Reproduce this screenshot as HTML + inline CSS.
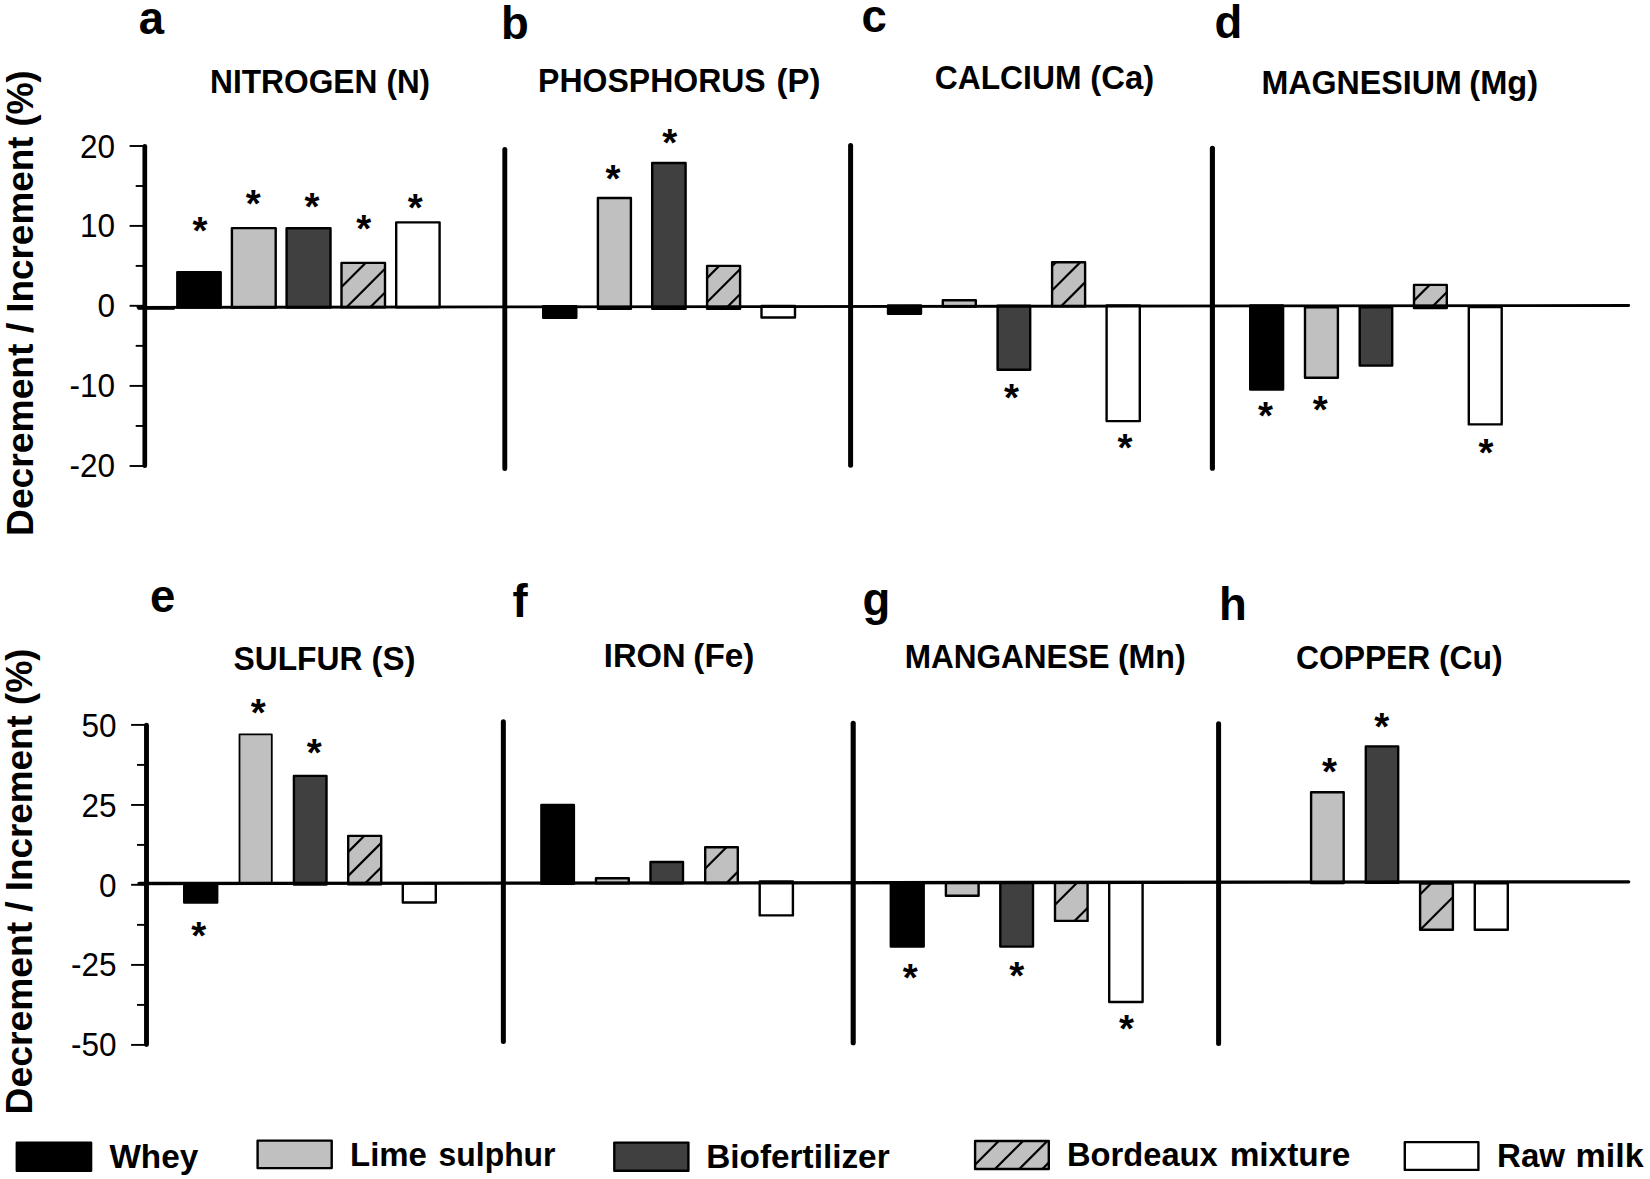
<!DOCTYPE html>
<html lang="en">
<head>
<meta charset="utf-8">
<title>Decrement / Increment (%) of leaf nutrients</title>
<style>
html,body{margin:0;padding:0;background:#fff;}
body{width:1650px;height:1179px;overflow:hidden;}
svg{display:block;}
svg text{font-family:"Liberation Sans",sans-serif;fill:#000;}
</style>
</head>
<body>
<svg width="1650" height="1179" viewBox="0 0 1650 1179">
<rect x="0" y="0" width="1650" height="1179" fill="#fff"/>
<text transform="translate(33.00,0) rotate(-90)" y="0" font-size="37.8" font-weight="bold"><tspan x="-536.02" textLength="192.55" lengthAdjust="spacingAndGlyphs">Decrement</tspan> <tspan x="-333.18" textLength="10.58" lengthAdjust="spacingAndGlyphs">/</tspan> <tspan x="-312.80" textLength="176.33" lengthAdjust="spacingAndGlyphs">Increment</tspan> <tspan x="-126.61" textLength="56.22" lengthAdjust="spacingAndGlyphs">(%)</tspan></text>
<text transform="translate(32.00,0) rotate(-90)" y="0" font-size="37.8" font-weight="bold"><tspan x="-1114.52" textLength="192.75" lengthAdjust="spacingAndGlyphs">Decrement</tspan> <tspan x="-911.78" textLength="10.47" lengthAdjust="spacingAndGlyphs">/</tspan> <tspan x="-891.30" textLength="176.13" lengthAdjust="spacingAndGlyphs">Increment</tspan> <tspan x="-704.91" textLength="56.22" lengthAdjust="spacingAndGlyphs">(%)</tspan></text>
<text x="138.83" y="33.60" font-size="45.5" font-weight="bold">a</text>
<text x="501.04" y="38.90" font-size="45.5" font-weight="bold">b</text>
<text x="861.38" y="31.50" font-size="45.5" font-weight="bold">c</text>
<text x="1214.58" y="38.40" font-size="45.5" font-weight="bold">d</text>
<text x="149.98" y="612.30" font-size="45.5" font-weight="bold">e</text>
<text x="512.42" y="616.60" font-size="45.5" font-weight="bold">f</text>
<text x="862.48" y="615.00" font-size="45.5" font-weight="bold">g</text>
<text x="1219.02" y="619.80" font-size="45.5" font-weight="bold">h</text>
<text y="92.90" font-size="33.2" font-weight="bold"><tspan x="210.04" textLength="167.31" lengthAdjust="spacingAndGlyphs">NITROGEN</tspan> <tspan x="386.43" textLength="43.59" lengthAdjust="spacingAndGlyphs">(N)</tspan></text>
<text y="91.60" font-size="33.2" font-weight="bold"><tspan x="538.12" textLength="227.58" lengthAdjust="spacingAndGlyphs">PHOSPHORUS</tspan> <tspan x="776.56" textLength="43.83" lengthAdjust="spacingAndGlyphs">(P)</tspan></text>
<text y="89.10" font-size="33.2" font-weight="bold"><tspan x="934.73" textLength="146.72" lengthAdjust="spacingAndGlyphs">CALCIUM</tspan> <tspan x="1090.36" textLength="63.76" lengthAdjust="spacingAndGlyphs">(Ca)</tspan></text>
<text y="93.70" font-size="33.2" font-weight="bold"><tspan x="1261.51" textLength="200.26" lengthAdjust="spacingAndGlyphs">MAGNESIUM</tspan> <tspan x="1469.37" textLength="68.76" lengthAdjust="spacingAndGlyphs">(Mg)</tspan></text>
<text y="670.40" font-size="33.2" font-weight="bold"><tspan x="233.55" textLength="128.90" lengthAdjust="spacingAndGlyphs">SULFUR</tspan> <tspan x="371.55" textLength="44.04" lengthAdjust="spacingAndGlyphs">(S)</tspan></text>
<text y="666.50" font-size="33.2" font-weight="bold"><tspan x="603.87" textLength="81.86" lengthAdjust="spacingAndGlyphs">IRON</tspan> <tspan x="693.33" textLength="61.07" lengthAdjust="spacingAndGlyphs">(Fe)</tspan></text>
<text y="667.80" font-size="33.2" font-weight="bold"><tspan x="904.65" textLength="204.98" lengthAdjust="spacingAndGlyphs">MANGANESE</tspan> <tspan x="1117.89" textLength="67.81" lengthAdjust="spacingAndGlyphs">(Mn)</tspan></text>
<text y="669.10" font-size="33.2" font-weight="bold"><tspan x="1295.93" textLength="134.41" lengthAdjust="spacingAndGlyphs">COPPER</tspan> <tspan x="1438.91" textLength="63.76" lengthAdjust="spacingAndGlyphs">(Cu)</tspan></text>
<text x="79.98" y="157.60" font-size="33" font-weight="normal" textLength="35.06" lengthAdjust="spacingAndGlyphs">20</text>
<text x="79.98" y="237.40" font-size="33" font-weight="normal" textLength="35.06" lengthAdjust="spacingAndGlyphs">10</text>
<text x="97.47" y="317.30" font-size="33" font-weight="normal" textLength="17.53" lengthAdjust="spacingAndGlyphs">0</text>
<text x="69.42" y="397.10" font-size="33" font-weight="normal" textLength="45.55" lengthAdjust="spacingAndGlyphs">-10</text>
<text x="69.42" y="477.00" font-size="33" font-weight="normal" textLength="45.55" lengthAdjust="spacingAndGlyphs">-20</text>
<text x="81.58" y="737.40" font-size="33" font-weight="normal" textLength="35.06" lengthAdjust="spacingAndGlyphs">50</text>
<text x="81.58" y="816.90" font-size="33" font-weight="normal" textLength="35.06" lengthAdjust="spacingAndGlyphs">25</text>
<text x="99.07" y="896.60" font-size="33" font-weight="normal" textLength="17.53" lengthAdjust="spacingAndGlyphs">0</text>
<text x="71.02" y="976.40" font-size="33" font-weight="normal" textLength="45.55" lengthAdjust="spacingAndGlyphs">-25</text>
<text x="71.02" y="1056.20" font-size="33" font-weight="normal" textLength="45.55" lengthAdjust="spacingAndGlyphs">-50</text>
<line x1="129.60" y1="146.00" x2="143.50" y2="146.00" stroke="#000" stroke-width="1.9"/>
<line x1="129.60" y1="225.90" x2="143.50" y2="225.90" stroke="#000" stroke-width="1.9"/>
<line x1="129.60" y1="305.80" x2="143.50" y2="305.80" stroke="#000" stroke-width="1.9"/>
<line x1="129.60" y1="385.90" x2="143.50" y2="385.90" stroke="#000" stroke-width="1.9"/>
<line x1="129.60" y1="466.00" x2="143.50" y2="466.00" stroke="#000" stroke-width="1.9"/>
<line x1="135.70" y1="186.00" x2="143.50" y2="186.00" stroke="#000" stroke-width="1.9"/>
<line x1="135.70" y1="265.90" x2="143.50" y2="265.90" stroke="#000" stroke-width="1.9"/>
<line x1="135.70" y1="345.85" x2="143.50" y2="345.85" stroke="#000" stroke-width="1.9"/>
<line x1="135.70" y1="425.95" x2="143.50" y2="425.95" stroke="#000" stroke-width="1.9"/>
<line x1="144.80" y1="146.35" x2="144.80" y2="465.75" stroke="#000" stroke-width="4.7" stroke-linecap="round"/>
<line x1="131.10" y1="724.90" x2="145.50" y2="724.90" stroke="#000" stroke-width="1.9"/>
<line x1="131.10" y1="804.95" x2="145.50" y2="804.95" stroke="#000" stroke-width="1.9"/>
<line x1="131.10" y1="884.80" x2="145.50" y2="884.80" stroke="#000" stroke-width="1.9"/>
<line x1="131.10" y1="964.90" x2="145.50" y2="964.90" stroke="#000" stroke-width="1.9"/>
<line x1="131.10" y1="1044.90" x2="145.50" y2="1044.90" stroke="#000" stroke-width="1.9"/>
<line x1="137.00" y1="764.90" x2="145.50" y2="764.90" stroke="#000" stroke-width="1.9"/>
<line x1="137.00" y1="844.90" x2="145.50" y2="844.90" stroke="#000" stroke-width="1.9"/>
<line x1="137.00" y1="924.85" x2="145.50" y2="924.85" stroke="#000" stroke-width="1.9"/>
<line x1="137.00" y1="1004.90" x2="145.50" y2="1004.90" stroke="#000" stroke-width="1.9"/>
<line x1="146.50" y1="725.25" x2="146.50" y2="1044.45" stroke="#000" stroke-width="4.9" stroke-linecap="round"/>
<line x1="504.80" y1="149.35" x2="504.80" y2="468.65" stroke="#000" stroke-width="4.9" stroke-linecap="round"/>
<line x1="850.60" y1="145.40" x2="850.60" y2="465.20" stroke="#000" stroke-width="5.0" stroke-linecap="round"/>
<line x1="1212.40" y1="148.35" x2="1212.40" y2="468.25" stroke="#000" stroke-width="5.1" stroke-linecap="round"/>
<line x1="503.35" y1="721.80" x2="503.35" y2="1041.40" stroke="#000" stroke-width="5.0" stroke-linecap="round"/>
<line x1="853.20" y1="723.25" x2="853.20" y2="1042.75" stroke="#000" stroke-width="5.1" stroke-linecap="round"/>
<line x1="1218.60" y1="723.80" x2="1218.60" y2="1043.40" stroke="#000" stroke-width="5.0" stroke-linecap="round"/>
<rect x="177.30" y="272.20" width="43.40" height="35.40" fill="#000" stroke="#000" stroke-width="2.4" stroke-linejoin="round"/>
<rect x="231.90" y="228.10" width="43.80" height="79.50" fill="#c0c0c0" stroke="#000" stroke-width="2.4" stroke-linejoin="round"/>
<rect x="286.60" y="228.20" width="43.90" height="79.30" fill="#404040" stroke="#000" stroke-width="2.4" stroke-linejoin="round"/>
<clipPath id="c1"><rect x="341.50" y="262.90" width="43.50" height="44.50"/></clipPath>
<rect x="341.50" y="262.90" width="43.50" height="44.50" fill="#c0c0c0" stroke="none"/>
<g clip-path="url(#c1)" stroke="#000" stroke-width="2.2"><line x1="290.60" y1="313.40" x2="347.10" y2="256.90"/><line x1="315.10" y1="313.40" x2="371.60" y2="256.90"/><line x1="340.40" y1="313.40" x2="396.90" y2="256.90"/><line x1="364.10" y1="313.40" x2="420.60" y2="256.90"/></g>
<rect x="341.50" y="262.90" width="43.50" height="44.50" fill="none" stroke="#000" stroke-width="2.4" stroke-linejoin="round"/>
<rect x="396.20" y="222.40" width="43.40" height="84.90" fill="#fff" stroke="#000" stroke-width="2.4" stroke-linejoin="round"/>
<rect x="543.20" y="306.30" width="33.10" height="11.40" fill="#000" stroke="#000" stroke-width="2.4" stroke-linejoin="round"/>
<rect x="597.90" y="198.00" width="33.00" height="110.80" fill="#c0c0c0" stroke="#000" stroke-width="2.4" stroke-linejoin="round"/>
<rect x="652.20" y="163.00" width="33.40" height="145.70" fill="#404040" stroke="#000" stroke-width="2.4" stroke-linejoin="round"/>
<clipPath id="c2"><rect x="707.10" y="265.90" width="33.00" height="42.80"/></clipPath>
<rect x="707.10" y="265.90" width="33.00" height="42.80" fill="#c0c0c0" stroke="none"/>
<g clip-path="url(#c2)" stroke="#000" stroke-width="2.2"><line x1="670.40" y1="314.70" x2="725.20" y2="259.90"/><line x1="694.60" y1="314.70" x2="749.40" y2="259.90"/><line x1="719.60" y1="314.70" x2="774.40" y2="259.90"/></g>
<rect x="707.10" y="265.90" width="33.00" height="42.80" fill="none" stroke="#000" stroke-width="2.4" stroke-linejoin="round"/>
<rect x="761.50" y="306.00" width="33.50" height="11.50" fill="#fff" stroke="#000" stroke-width="2.4" stroke-linejoin="round"/>
<rect x="888.00" y="305.40" width="33.00" height="8.30" fill="#000" stroke="#000" stroke-width="2.4" stroke-linejoin="round"/>
<rect x="942.80" y="300.20" width="33.00" height="6.30" fill="#c0c0c0" stroke="#000" stroke-width="2.4" stroke-linejoin="round"/>
<rect x="997.60" y="305.60" width="32.60" height="64.20" fill="#404040" stroke="#000" stroke-width="2.4" stroke-linejoin="round"/>
<clipPath id="c3"><rect x="1052.10" y="262.30" width="33.00" height="44.10"/></clipPath>
<rect x="1052.10" y="262.30" width="33.00" height="44.10" fill="#c0c0c0" stroke="none"/>
<g clip-path="url(#c3)" stroke="#000" stroke-width="2.2"><line x1="1005.80" y1="312.40" x2="1061.90" y2="256.30"/><line x1="1030.10" y1="312.40" x2="1086.20" y2="256.30"/><line x1="1055.00" y1="312.40" x2="1111.10" y2="256.30"/><line x1="1079.60" y1="312.40" x2="1135.70" y2="256.30"/></g>
<rect x="1052.10" y="262.30" width="33.00" height="44.10" fill="none" stroke="#000" stroke-width="2.4" stroke-linejoin="round"/>
<rect x="1106.60" y="305.40" width="33.20" height="115.70" fill="#fff" stroke="#000" stroke-width="2.4" stroke-linejoin="round"/>
<rect x="1250.20" y="305.50" width="32.90" height="84.10" fill="#000" stroke="#000" stroke-width="2.4" stroke-linejoin="round"/>
<rect x="1305.00" y="307.30" width="32.90" height="70.50" fill="#c0c0c0" stroke="#000" stroke-width="2.4" stroke-linejoin="round"/>
<rect x="1359.70" y="307.20" width="32.50" height="58.40" fill="#404040" stroke="#000" stroke-width="2.4" stroke-linejoin="round"/>
<clipPath id="c4"><rect x="1414.00" y="284.90" width="32.80" height="23.20"/></clipPath>
<rect x="1414.00" y="284.90" width="32.80" height="23.20" fill="#c0c0c0" stroke="none"/>
<g clip-path="url(#c4)" stroke="#000" stroke-width="2.2"><line x1="1376.10" y1="314.10" x2="1411.30" y2="278.90"/><line x1="1400.50" y1="314.10" x2="1435.70" y2="278.90"/><line x1="1424.90" y1="314.10" x2="1460.10" y2="278.90"/><line x1="1449.30" y1="314.10" x2="1484.50" y2="278.90"/></g>
<rect x="1414.00" y="284.90" width="32.80" height="23.20" fill="none" stroke="#000" stroke-width="2.4" stroke-linejoin="round"/>
<rect x="1468.80" y="307.00" width="32.90" height="117.40" fill="#fff" stroke="#000" stroke-width="2.4" stroke-linejoin="round"/>
<rect x="184.20" y="883.50" width="33.00" height="19.00" fill="#000" stroke="#000" stroke-width="2.4" stroke-linejoin="round"/>
<rect x="239.50" y="734.30" width="32.30" height="149.30" fill="#c0c0c0" stroke="#000" stroke-width="1.8" stroke-linejoin="round"/>
<rect x="293.90" y="775.90" width="32.60" height="108.60" fill="#404040" stroke="#000" stroke-width="2.4" stroke-linejoin="round"/>
<clipPath id="c5"><rect x="348.20" y="835.90" width="33.00" height="48.40"/></clipPath>
<rect x="348.20" y="835.90" width="33.00" height="48.40" fill="#c0c0c0" stroke="none"/>
<g clip-path="url(#c5)" stroke="#000" stroke-width="2.2"><line x1="309.80" y1="890.30" x2="370.20" y2="829.90"/><line x1="333.80" y1="890.30" x2="394.20" y2="829.90"/><line x1="358.20" y1="890.30" x2="418.60" y2="829.90"/></g>
<rect x="348.20" y="835.90" width="33.00" height="48.40" fill="none" stroke="#000" stroke-width="2.4" stroke-linejoin="round"/>
<rect x="402.80" y="883.20" width="33.00" height="19.30" fill="#fff" stroke="#000" stroke-width="2.4" stroke-linejoin="round"/>
<rect x="541.40" y="804.90" width="32.50" height="78.90" fill="#000" stroke="#000" stroke-width="2.4" stroke-linejoin="round"/>
<rect x="596.00" y="878.30" width="32.80" height="5.00" fill="#c0c0c0" stroke="#000" stroke-width="2.4" stroke-linejoin="round"/>
<rect x="650.50" y="862.00" width="32.50" height="21.20" fill="#404040" stroke="#000" stroke-width="2.4" stroke-linejoin="round"/>
<clipPath id="c6"><rect x="705.20" y="847.20" width="32.60" height="35.90"/></clipPath>
<rect x="705.20" y="847.20" width="32.60" height="35.90" fill="#c0c0c0" stroke="none"/>
<g clip-path="url(#c6)" stroke="#000" stroke-width="2.2"><line x1="684.60" y1="889.10" x2="732.50" y2="841.20"/><line x1="720.50" y1="889.10" x2="768.40" y2="841.20"/></g>
<rect x="705.20" y="847.20" width="32.60" height="35.90" fill="none" stroke="#000" stroke-width="2.4" stroke-linejoin="round"/>
<rect x="759.70" y="881.50" width="33.20" height="33.90" fill="#fff" stroke="#000" stroke-width="2.4" stroke-linejoin="round"/>
<rect x="890.80" y="882.50" width="32.90" height="64.10" fill="#000" stroke="#000" stroke-width="2.4" stroke-linejoin="round"/>
<rect x="945.90" y="882.40" width="32.70" height="13.30" fill="#c0c0c0" stroke="#000" stroke-width="2.4" stroke-linejoin="round"/>
<rect x="1000.30" y="882.30" width="32.70" height="64.30" fill="#404040" stroke="#000" stroke-width="2.4" stroke-linejoin="round"/>
<clipPath id="c7"><rect x="1055.00" y="882.80" width="32.60" height="38.10"/></clipPath>
<rect x="1055.00" y="882.80" width="32.60" height="38.10" fill="#c0c0c0" stroke="none"/>
<g clip-path="url(#c7)" stroke="#000" stroke-width="2.2"><line x1="1032.90" y1="926.90" x2="1083.00" y2="876.80"/><line x1="1068.60" y1="926.90" x2="1118.70" y2="876.80"/></g>
<rect x="1055.00" y="882.80" width="32.60" height="38.10" fill="none" stroke="#000" stroke-width="2.4" stroke-linejoin="round"/>
<rect x="1109.20" y="882.10" width="33.40" height="119.90" fill="#fff" stroke="#000" stroke-width="2.4" stroke-linejoin="round"/>
<rect x="1311.10" y="792.20" width="32.60" height="90.80" fill="#c0c0c0" stroke="#000" stroke-width="2.4" stroke-linejoin="round"/>
<rect x="1365.80" y="746.40" width="32.40" height="136.50" fill="#404040" stroke="#000" stroke-width="2.4" stroke-linejoin="round"/>
<clipPath id="c8"><rect x="1420.10" y="883.50" width="32.80" height="46.20"/></clipPath>
<rect x="1420.10" y="883.50" width="32.80" height="46.20" fill="#c0c0c0" stroke="none"/>
<g clip-path="url(#c8)" stroke="#000" stroke-width="2.2"><line x1="1378.80" y1="935.70" x2="1437.00" y2="877.50"/><line x1="1414.30" y1="935.70" x2="1472.50" y2="877.50"/></g>
<rect x="1420.10" y="883.50" width="32.80" height="46.20" fill="none" stroke="#000" stroke-width="2.4" stroke-linejoin="round"/>
<rect x="1474.80" y="883.40" width="33.00" height="46.30" fill="#fff" stroke="#000" stroke-width="2.4" stroke-linejoin="round"/>
<line x1="138" y1="307.4" x2="1628.7" y2="305.45" stroke="#000" stroke-width="2.9" stroke-linecap="round"/>
<line x1="139" y1="883.5" x2="1628.7" y2="881.8" stroke="#000" stroke-width="3.3" stroke-linecap="round"/>
<rect x="137.7" y="307.3" width="37" height="2.5" fill="#000"/>
<text x="192.39" y="244.44" font-size="38.5" font-weight="bold">*</text>
<text x="245.69" y="217.44" font-size="38.5" font-weight="bold">*</text>
<text x="304.49" y="219.84" font-size="38.5" font-weight="bold">*</text>
<text x="356.29" y="241.74" font-size="38.5" font-weight="bold">*</text>
<text x="407.69" y="220.64" font-size="38.5" font-weight="bold">*</text>
<text x="605.49" y="191.64" font-size="38.5" font-weight="bold">*</text>
<text x="662.29" y="156.44" font-size="38.5" font-weight="bold">*</text>
<text x="1004.09" y="411.34" font-size="38.5" font-weight="bold">*</text>
<text x="1117.59" y="460.54" font-size="38.5" font-weight="bold">*</text>
<text x="1257.99" y="429.14" font-size="38.5" font-weight="bold">*</text>
<text x="1312.69" y="423.44" font-size="38.5" font-weight="bold">*</text>
<text x="1478.39" y="465.94" font-size="38.5" font-weight="bold">*</text>
<text x="250.79" y="725.64" font-size="38.5" font-weight="bold">*</text>
<text x="306.69" y="765.84" font-size="38.5" font-weight="bold">*</text>
<text x="191.29" y="949.44" font-size="38.5" font-weight="bold">*</text>
<text x="902.69" y="990.94" font-size="38.5" font-weight="bold">*</text>
<text x="1009.29" y="988.74" font-size="38.5" font-weight="bold">*</text>
<text x="1119.09" y="1041.84" font-size="38.5" font-weight="bold">*</text>
<text x="1321.89" y="784.54" font-size="38.5" font-weight="bold">*</text>
<text x="1374.29" y="739.84" font-size="38.5" font-weight="bold">*</text>
<rect x="16.80" y="1142.60" width="74.30" height="28.10" fill="#000" stroke="#000" stroke-width="2.4" stroke-linejoin="round"/>
<rect x="257.60" y="1140.60" width="74.10" height="27.50" fill="#c0c0c0" stroke="#000" stroke-width="2.4" stroke-linejoin="round"/>
<rect x="614.30" y="1142.60" width="74.10" height="28.10" fill="#404040" stroke="#000" stroke-width="2.4" stroke-linejoin="round"/>
<clipPath id="c9"><rect x="975.10" y="1141.00" width="73.70" height="28.00"/></clipPath>
<rect x="975.10" y="1141.00" width="73.70" height="28.00" fill="#c0c0c0" stroke="none"/>
<g clip-path="url(#c9)" stroke="#000" stroke-width="2.2"><line x1="940.50" y1="1175.00" x2="980.50" y2="1135.00"/><line x1="964.70" y1="1175.00" x2="1004.70" y2="1135.00"/><line x1="989.00" y1="1175.00" x2="1029.00" y2="1135.00"/><line x1="1013.30" y1="1175.00" x2="1053.30" y2="1135.00"/><line x1="1036.40" y1="1175.00" x2="1076.40" y2="1135.00"/></g>
<rect x="975.10" y="1141.00" width="73.70" height="28.00" fill="none" stroke="#000" stroke-width="2.4" stroke-linejoin="round"/>
<rect x="1404.80" y="1142.10" width="73.60" height="27.80" fill="#fff" stroke="#000" stroke-width="2.4" stroke-linejoin="round"/>
<text x="109.40" y="1167.50" font-size="34" font-weight="bold" textLength="88.84" lengthAdjust="spacingAndGlyphs" >Whey</text>
<text y="1165.80" font-size="34" font-weight="bold"><tspan x="350.06" textLength="76.86" lengthAdjust="spacingAndGlyphs">Lime</tspan> <tspan x="438.58" textLength="116.94" lengthAdjust="spacingAndGlyphs">sulphur</tspan></text>
<text x="706.29" y="1167.80" font-size="34" font-weight="bold" textLength="183.35" lengthAdjust="spacingAndGlyphs" >Biofertilizer</text>
<text y="1166.00" font-size="34" font-weight="bold"><tspan x="1066.98" textLength="150.73" lengthAdjust="spacingAndGlyphs">Bordeaux</tspan> <tspan x="1229.63" textLength="120.72" lengthAdjust="spacingAndGlyphs">mixture</tspan></text>
<text y="1167.40" font-size="34" font-weight="bold"><tspan x="1497.05" textLength="68.02" lengthAdjust="spacingAndGlyphs">Raw</tspan> <tspan x="1575.59" textLength="68.04" lengthAdjust="spacingAndGlyphs">milk</tspan></text>
</svg>
</body>
</html>
